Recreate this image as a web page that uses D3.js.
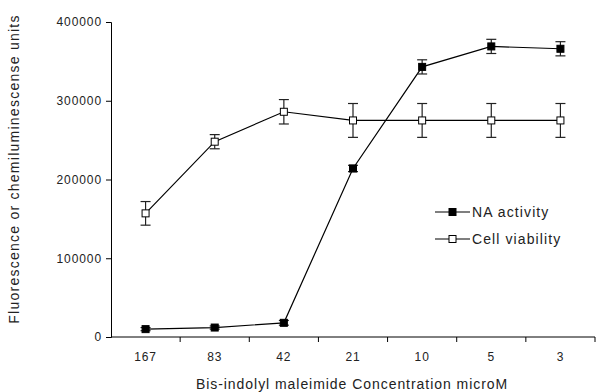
<!DOCTYPE html>
<html>
<head>
<meta charset="utf-8" />
<script src="https://d3js.org/d3.v7.min.js"></script>
<style>
  body { margin: 0; background: #fff; }
  svg text { font-family: "Liberation Sans", Arial, sans-serif; fill: #222; }
</style>
</head>
<body>
<div id="chart"></div>
<script>

// concentrations on the x axis (categorical, highest first)
var concentrations = ["167", "83", "42", "21", "10", "5", "3"];

// NA activity series and its error
var naActivity = [10000, 12000, 18000, 214000, 343000, 369000, 366000];
var naError    = [2000, 2000, 3000, 4000, 9000, 9000, 9000];

// cell viability series and its error
var cellViability = [157000, 248000, 286000, 275000, 275000, 275000, 275000];
var cellError     = [15000, 9000, 15500, 21500, 21500, 21500, 21500];

var yTicks = [0, 100000, 200000, 300000, 400000];

var margin = {top: 22, right: 1, bottom: 55, left: 111},
    width = 596 - margin.left - margin.right,
    height = 392 - margin.top - margin.bottom;

var svg = d3.select("#chart")
  .append("svg")
    .attr("width", 596)
    .attr("height", 392)
  .append("g")
    .attr("transform", "translate(" + margin.left + "," + margin.top + ")");

var x = d3.scaleBand()
  .domain(concentrations)
  .range([0, width]);

var y = d3.scaleLinear()
  .domain([0, 400000])
  .range([height, 0]);

// x axis, ticks sit between categories
var xAxis = svg.append("g")
  .attr("transform", "translate(0," + height + ")");
xAxis.append("line")
  .attr("x1", 0).attr("x2", width)
  .attr("stroke", "#000");
xAxis.selectAll(".xt")
  .data(concentrations)
  .enter().append("line")
    .attr("x1", function(d) { return x(d) + x.bandwidth(); })
    .attr("x2", function(d) { return x(d) + x.bandwidth(); })
    .attr("y1", 0).attr("y2", 5)
    .attr("stroke", "#000");
xAxis.selectAll(".xl")
  .data(concentrations)
  .enter().append("text")
    .attr("x", function(d) { return x(d) + x.bandwidth() / 2; })
    .attr("y", 24)
    .attr("text-anchor", "middle")
    .style("font-size", "12px")
    .style("letter-spacing", "0.9px")
    .text(function(d) { return d; });

// y axis
svg.append("g")
  .call(d3.axisLeft(y).tickValues(yTicks).tickSize(5).tickPadding(4).tickFormat(d3.format("d")))
  .call(function(g) {
    g.select(".domain").attr("stroke", "#000");
    g.selectAll(".tick line").attr("stroke", "#000");
    g.selectAll("text")
      .style("font-size", "12px")
      .style("letter-spacing", "0.9px")
      .style("font-family", "Liberation Sans, Arial, sans-serif")
      .attr("fill", "#222");
  });

// axis titles
svg.append("text")
  .attr("x", width / 2 - 1)
  .attr("y", height + 52)
  .attr("text-anchor", "middle")
  .style("font-size", "14px")
  .style("letter-spacing", "0.95px")
  .text("Bis-indolyl maleimide Concentration microM");

svg.append("text")
  .attr("transform", "rotate(-90)")
  .attr("x", -(169 - margin.top))
  .attr("y", -92)
  .attr("text-anchor", "middle")
  .style("font-size", "14px")
  .style("letter-spacing", "1.25px")
  .text("Fluorescence or chemiluminescense units");

function cx(d, i) { return x(concentrations[i]) + x.bandwidth() / 2; }

function drawSeries(values, errors, fill) {
  var g = svg.append("g");
  var line = d3.line()
    .x(function(d, i) { return cx(d, i); })
    .y(function(d) { return y(d); });
  g.append("path")
    .datum(values)
    .attr("d", line)
    .attr("fill", "none")
    .attr("stroke", "#000")
    .attr("stroke-width", 1.2);

  var eb = g.selectAll(".eb")
    .data(values)
    .enter().append("g");
  eb.append("line")
    .attr("x1", cx).attr("x2", cx)
    .attr("y1", function(d, i) { return y(d + errors[i]); })
    .attr("y2", function(d, i) { return y(d - errors[i]); })
    .attr("stroke", "#222").attr("stroke-width", 1.2);
  eb.append("line")
    .attr("x1", function(d, i) { return cx(d, i) - 5; })
    .attr("x2", function(d, i) { return cx(d, i) + 5; })
    .attr("y1", function(d, i) { return y(d + errors[i]); })
    .attr("y2", function(d, i) { return y(d + errors[i]); })
    .attr("stroke", "#222").attr("stroke-width", 1.2);
  eb.append("line")
    .attr("x1", function(d, i) { return cx(d, i) - 5; })
    .attr("x2", function(d, i) { return cx(d, i) + 5; })
    .attr("y1", function(d, i) { return y(d - errors[i]); })
    .attr("y2", function(d, i) { return y(d - errors[i]); })
    .attr("stroke", "#222").attr("stroke-width", 1.2);

  g.selectAll(".pt")
    .data(values)
    .enter().append("rect")
      .attr("x", function(d, i) { return cx(d, i) - 3.5; })
      .attr("y", function(d) { return y(d) - 3.5; })
      .attr("width", 7).attr("height", 7)
      .attr("fill", fill)
      .attr("stroke", "#000")
      .attr("stroke-width", 1);
}

drawSeries(cellViability, cellError, "#fff");
drawSeries(naActivity, naError, "#000");

// legend
var legendData = [{name: "NA activity", fill: "#000"}, {name: "Cell viability", fill: "#fff"}];
var legend = svg.append("g")
  .attr("transform", "translate(" + (435 - margin.left) + "," + (212 - margin.top) + ")");
var items = legend.selectAll(".li")
  .data(legendData)
  .enter().append("g")
  .attr("transform", function(d, i) { return "translate(0," + (i * 27) + ")"; });
items.append("line")
  .attr("x1", 0).attr("x2", 35)
  .attr("stroke", "#000").attr("stroke-width", 1.2);
items.append("rect")
  .attr("x", 14).attr("y", -3.5)
  .attr("width", 7).attr("height", 7)
  .attr("fill", function(d) { return d.fill; })
  .attr("stroke", "#000");
items.append("text")
  .attr("x", 37)
  .attr("y", 5)
  .style("font-size", "14px")
  .style("letter-spacing", "1.1px")
  .text(function(d) { return d.name; });

</script>
</body>
</html>
